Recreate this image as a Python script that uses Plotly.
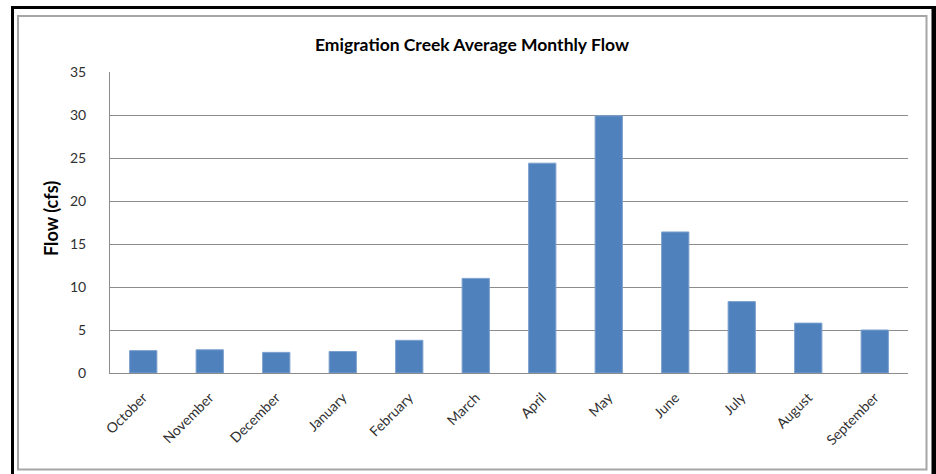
import plotly.graph_objects as go

months = ["October", "November", "December", "January", "February", "March",
          "April", "May", "June", "July", "August", "September"]
flow_cfs = [2.6, 2.7, 2.4, 2.5, 3.8, 11.0, 24.4, 29.9, 16.4, 8.3, 5.8, 5.0]
y_ticks = [0, 5, 10, 15, 20, 25, 30, 35]

title_text = "Emigration Creek Average Monthly Flow"
y_title = "Flow (cfs)"

W, H = 936, 474
L, R, T, B = 110, 28, 72, 101
PW, PH = W - L - R, H - T - B

def px(xp):
    return (xp - L) / PW

def py(yp):
    return (H - B - yp) / PH

FONT = "Lato, 'Open Sans', sans-serif"
GRID = "#8c8c8c"
TXT = "#303030"

fig = go.Figure(go.Bar(
    x=months, y=flow_cfs,
    marker=dict(color="#4F81BD", line=dict(color="#7BA0CF", width=1)),
    width=0.41,
))

fig.update_layout(
    width=W, height=H,
    margin=dict(l=L, r=R, t=T, b=B, pad=0),
    paper_bgcolor="white", plot_bgcolor="white",
    showlegend=False,
    font=dict(family=FONT, size=14, color=TXT),
)

fig.update_xaxes(
    type="category", tickangle=-45, showgrid=False,
    showline=True, linecolor=GRID, linewidth=1,
    ticks="", ticklabelstandoff=10,
    tickfont=dict(size=14, color=TXT),
    range=[-0.5, len(months) - 0.5],
)
fig.update_yaxes(
    range=[0, 35], tickvals=y_ticks, showgrid=True, gridcolor=GRID, gridwidth=1,
    showline=True, linecolor=GRID, linewidth=1,
    ticks="", ticklabelstandoff=20,
    tickfont=dict(size=14, color=TXT),
    zeroline=False,
)

# title and axis title
fig.add_annotation(text="<b>" + title_text + "</b>", xref="paper", yref="paper",
                   x=px(471.5), y=py(44), xanchor="center", yanchor="middle",
                   showarrow=False, font=dict(size=17.5, color="#000000", family=FONT))
fig.add_annotation(text="<b>" + y_title + "</b>", xref="paper", yref="paper",
                   x=px(51), y=py(219), xanchor="center", yanchor="middle",
                   textangle=-90, showarrow=False,
                   font=dict(size=18, color="#000000", family=FONT))

# outer black frame and inner gray frame
fig.add_shape(type="rect", xref="paper", yref="paper",
              x0=px(12.5), x1=px(933.5), y0=py(480), y1=py(7.5),
              line=dict(color="black", width=3), layer="above")
fig.add_shape(type="line", xref="paper", yref="paper",
              x0=px(934), x1=px(934), y0=py(480), y1=py(6),
              line=dict(color="black", width=5), layer="above")
fig.add_shape(type="rect", xref="paper", yref="paper",
              x0=px(18), x1=px(926.5), y0=py(469.5), y1=py(16),
              line=dict(color="#a6a6a6", width=2), layer="above")

fig.write_html("out.html")
